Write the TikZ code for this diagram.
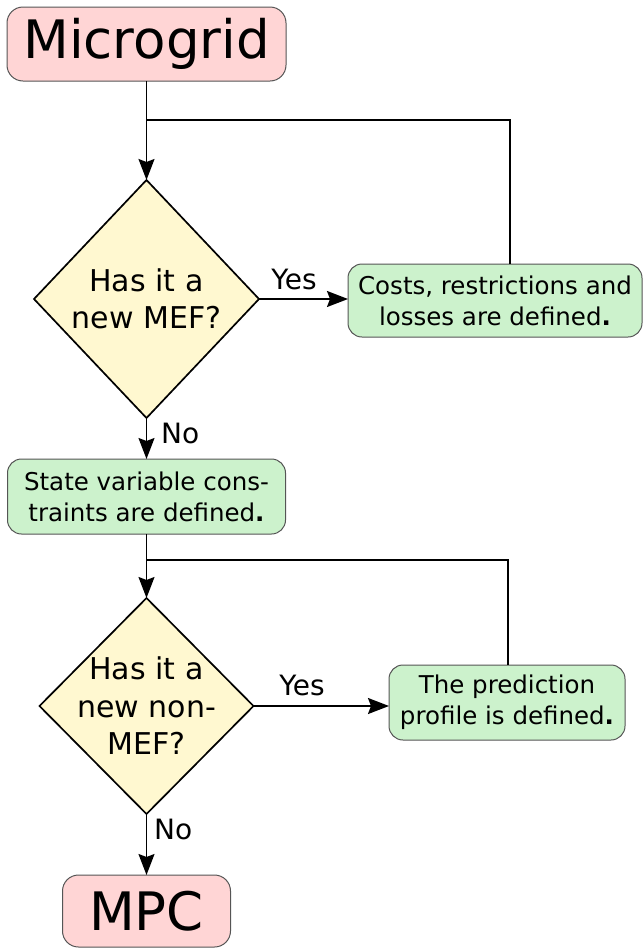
\documentclass[tikz,border=0pt]{standalone}
\usepackage{fontspec}
\setmainfont{DejaVu Sans}
\usetikzlibrary{shapes.geometric,arrows.meta}
\definecolor{pinkfill}{RGB}{255,213,213}
\definecolor{greenfill}{RGB}{204,242,204}
\definecolor{yellowfill}{RGB}{255,248,208}
\definecolor{boxline}{RGB}{85,85,85}
\begin{document}
\begin{tikzpicture}[x=1pt,y=-1pt,
  term/.style={draw=boxline, line width=1pt, fill=pinkfill, rounded corners=16pt, inner sep=0pt, outer sep=0pt, font=\fontsize{53}{60}\selectfont},
  proc/.style={draw=boxline, line width=1pt, fill=greenfill, rounded corners=14pt, inner sep=0pt, outer sep=0pt, align=center, font=\fontsize{24.5}{31}\selectfont},
  decision/.style={diamond, draw=black, line width=1.7pt, fill=yellowfill, inner xsep=-25pt, inner ysep=-25pt, outer sep=0pt, align=center, font=\fontsize{30}{37.5}\selectfont},
  flow/.style={line width=1.7pt, -{Stealth[length=21pt,width=16pt,inset=3pt]}},
  link/.style={line width=1.7pt},
  lbl/.style={font=\fontsize{28}{30}\selectfont, inner sep=0pt}]
\useasboundingbox (0,0) rectangle (643,948);

\node[term, minimum width=279pt, minimum height=74pt] (micro) at (146.5,44) {Microgrid};
\node[decision, minimum width=225pt, minimum height=238pt] (d1) at (146.5,299) {Has it a\\new MEF?};
\node[proc, minimum width=294pt, minimum height=73pt] (costs) at (495,300.5) {Costs, restrictions and\\losses are defined\textbf{.}};
\node[proc, minimum width=278pt, minimum height=75pt] (state) at (146.5,496.5) {State variable cons-\\traints are defined\textbf{.}};
\node[decision, minimum width=214pt, minimum height=216pt] (d2) at (146.5,706) {Has it a\\new non-\\MEF?};
\node[proc, minimum width=236pt, minimum height=75pt] (pred) at (507,702.5) {The prediction\\profile is defined\textbf{.}};
\node[term, minimum width=168pt, minimum height=72pt] (mpc) at (146.5,911) {MPC};

\coordinate (j1) at (146.5,120);
\coordinate (r1) at (510,120);
\coordinate (j2) at (146.5,560);
\coordinate (r2) at (508,560);

\draw[flow] (micro.south) -- (d1.north);
\draw[link] (r1 |- costs.north) -- (r1) -- (j1);
\draw[flow] (d1.east) -- (d1.east -| costs.west);
\node[lbl, anchor=base] (yes1) at (294,289) {Yes};
\draw[flow] (d1.south) -- (state.north);
\node[lbl, anchor=base west] (no1) at (161,443) {No};

\draw[flow] (state.south) -- (d2.north);
\draw[link] (r2 |- pred.north) -- (r2) -- (j2);
\draw[flow] (d2.east) -- (d2.east -| pred.west);
\node[lbl, anchor=base] (yes2) at (302,695) {Yes};
\draw[flow] (d2.south) -- (mpc.north);
\node[lbl, anchor=base west] (no2) at (154,839) {No};
\end{tikzpicture}
\end{document}
